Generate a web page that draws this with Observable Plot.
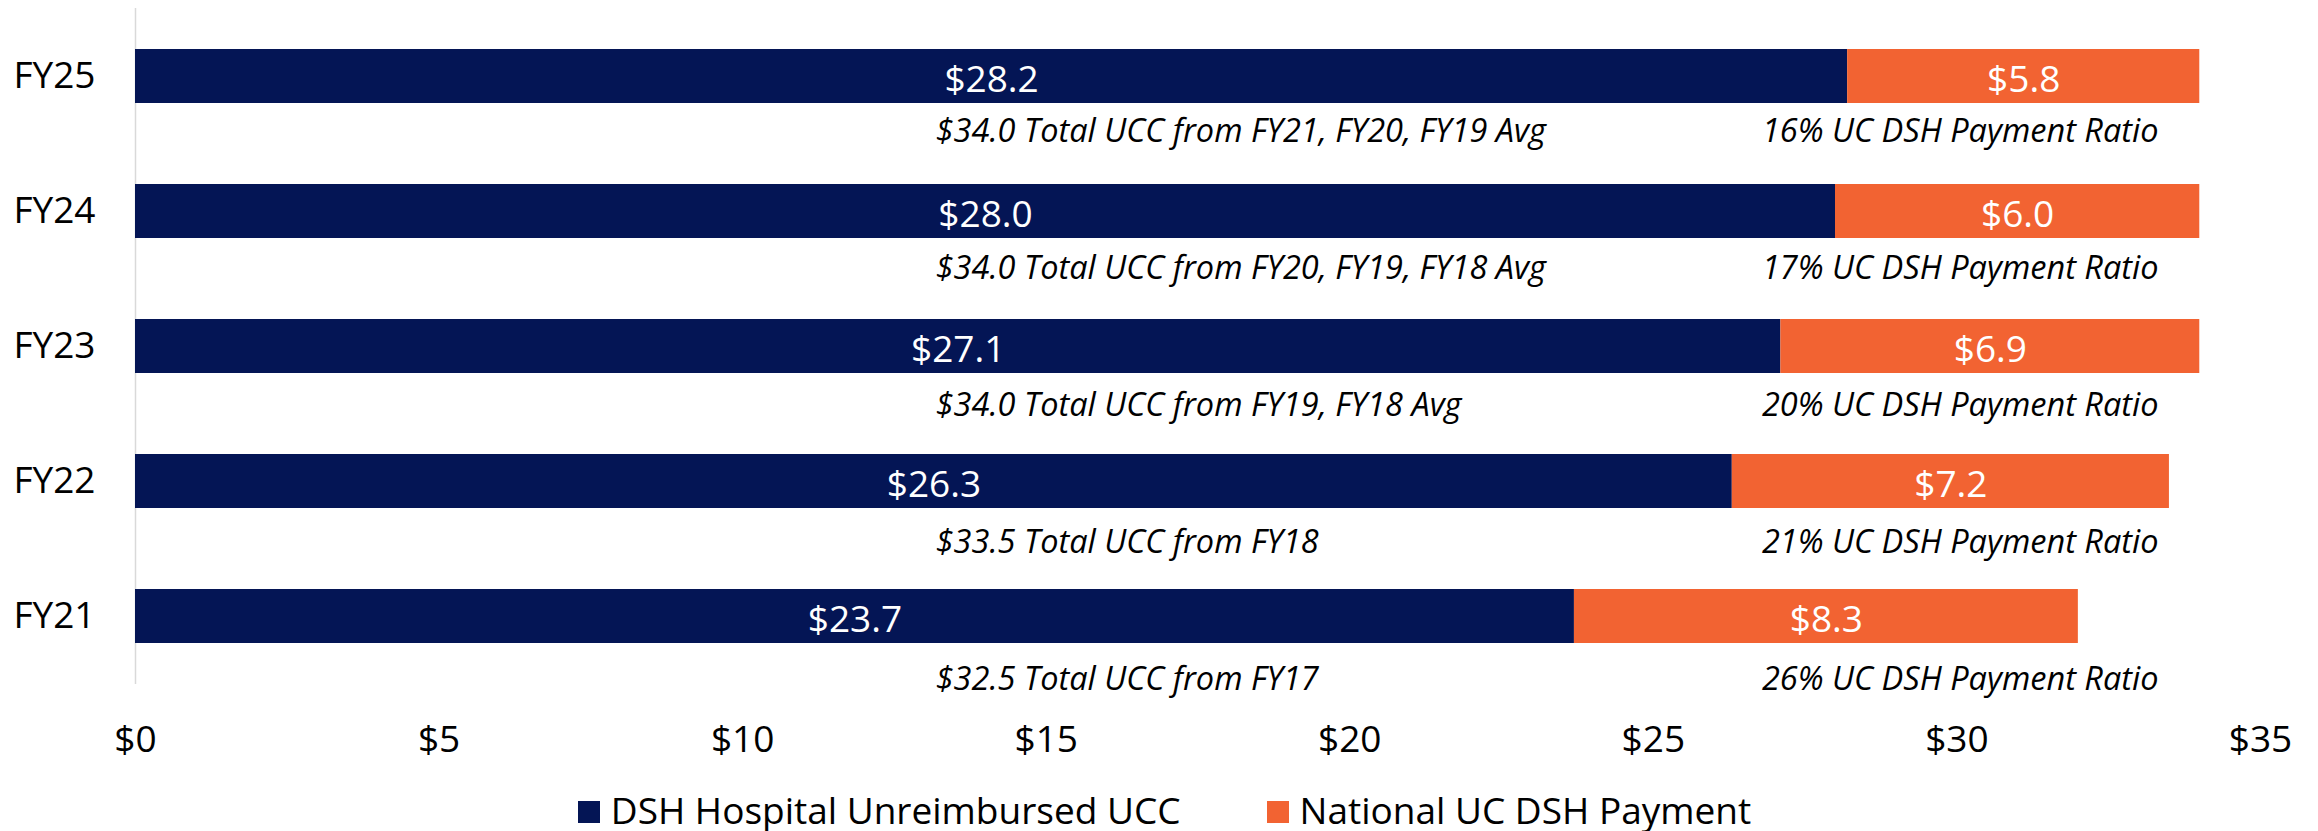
<!DOCTYPE html>
<html>
<head>
<meta charset="utf-8">
<script src="https://cdn.jsdelivr.net/npm/d3@7"></script>
<script src="https://cdn.jsdelivr.net/npm/@observablehq/plot@0.6"></script>
<style>
  html, body { margin: 0; padding: 0; background: #fff; }
  body { width: 2318px; height: 831px; overflow: hidden; font-family: "Open Sans", sans-serif; }
  #legend { display: flex; justify-content: center; align-items: center; margin-top: 11px; height: 37px;
            font-size: 37px; line-height: 37px; color: #000; padding-left: 11px; }
  .item { display: flex; align-items: center; margin: 0 43px; }
  .sw { width: 22px; height: 22px; margin-right: 11px; margin-top: 4px; }
</style>
</head>
<body>
<div id="chart"></div>
<div id="legend"></div>
<script>
const years = ["FY25", "FY24", "FY23", "FY22", "FY21"];
const uccValues = [28.2, 28.0, 27.1, 26.3, 23.7];
const paymentValues = [5.8, 6.0, 6.9, 7.2, 8.3];
const totalNotes = [
  "$34.0 Total UCC from FY21, FY20, FY19 Avg",
  "$34.0 Total UCC from FY20, FY19, FY18 Avg",
  "$34.0 Total UCC from FY19, FY18 Avg",
  "$33.5 Total UCC from FY18",
  "$32.5 Total UCC from FY17"
];
const ratioNotes = [
  "16% UC DSH Payment Ratio",
  "17% UC DSH Payment Ratio",
  "20% UC DSH Payment Ratio",
  "21% UC DSH Payment Ratio",
  "26% UC DSH Payment Ratio"
];
const seriesNames = ["DSH Hospital Unreimbursed UCC", "National UC DSH Payment"];
const seriesColors = ["#041555", "#F26332"];
const xTicks = [0, 5, 10, 15, 20, 25, 30, 35];
// annotation anchors (in $ units)
const totalNoteX = 13.18;
const ratioNoteX = 33.32;

const rows = [];
years.forEach((y, i) => {
  rows.push({year: y, series: seriesNames[0], value: uccValues[i]});
  rows.push({year: y, series: seriesNames[1], value: paymentValues[i]});
});
const notes = years.map((y, i) => ({year: y, total: totalNotes[i], ratio: ratioNotes[i], i}));

const noteMarks = notes.flatMap(n => [
  Plot.text([n], {x: () => totalNoteX, y: "year", text: "total", textAnchor: "start", lineAnchor: "bottom",
    dy: 65 + 2.05 * n.i, fontSize: 32.5, fontStyle: "italic", fill: "#000"}),
  Plot.text([n], {x: () => ratioNoteX, y: "year", text: "ratio", textAnchor: "end", lineAnchor: "bottom",
    dy: 65 + 2.05 * n.i, fontSize: 32.5, fontStyle: "italic", fill: "#000"})
]);

const chart = Plot.plot({
  width: 2318,
  height: 780,
  marginLeft: 135,
  marginRight: 58,
  marginTop: 8,
  marginBottom: 96,
  style: {fontFamily: "Open Sans, sans-serif", fontSize: "37px", color: "#000", background: "#fff"},
  x: {domain: [0, 35], ticks: xTicks, tickFormat: d => "$" + d, label: null},
  y: {domain: years, paddingInner: 0.6, paddingOuter: 0.3, label: null},
  color: {domain: seriesNames, range: seriesColors},
  marks: [
    Plot.ruleX([0], {stroke: "#d9d9d9", strokeWidth: 1.5}),
    Plot.barX(rows, Plot.stackX({x: "value", y: "year", fill: "series", order: seriesNames})),
    Plot.text(rows, Plot.stackX({x: "value", y: "year", z: "series", order: seriesNames,
      text: d => "$" + d.value.toFixed(1), fill: "#fff", fontSize: 37, lineAnchor: "bottom", dy: 15})),
    ...noteMarks,
    Plot.axisX({ticks: xTicks, tickFormat: d => "$" + d, tickSize: 0, tickPadding: 41, fontSize: 37, label: null}),
    Plot.axisY({tickSize: 0, tickPadding: 40, fontSize: 37, label: null})
  ]
});
document.getElementById("chart").appendChild(chart);

const legend = document.getElementById("legend");
seriesNames.forEach((name, i) => {
  const item = document.createElement("div");
  item.className = "item";
  const sw = document.createElement("span");
  sw.className = "sw";
  sw.style.background = seriesColors[i];
  const label = document.createElement("span");
  label.textContent = name;
  item.appendChild(sw);
  item.appendChild(label);
  legend.appendChild(item);
});
</script>
</body>
</html>
